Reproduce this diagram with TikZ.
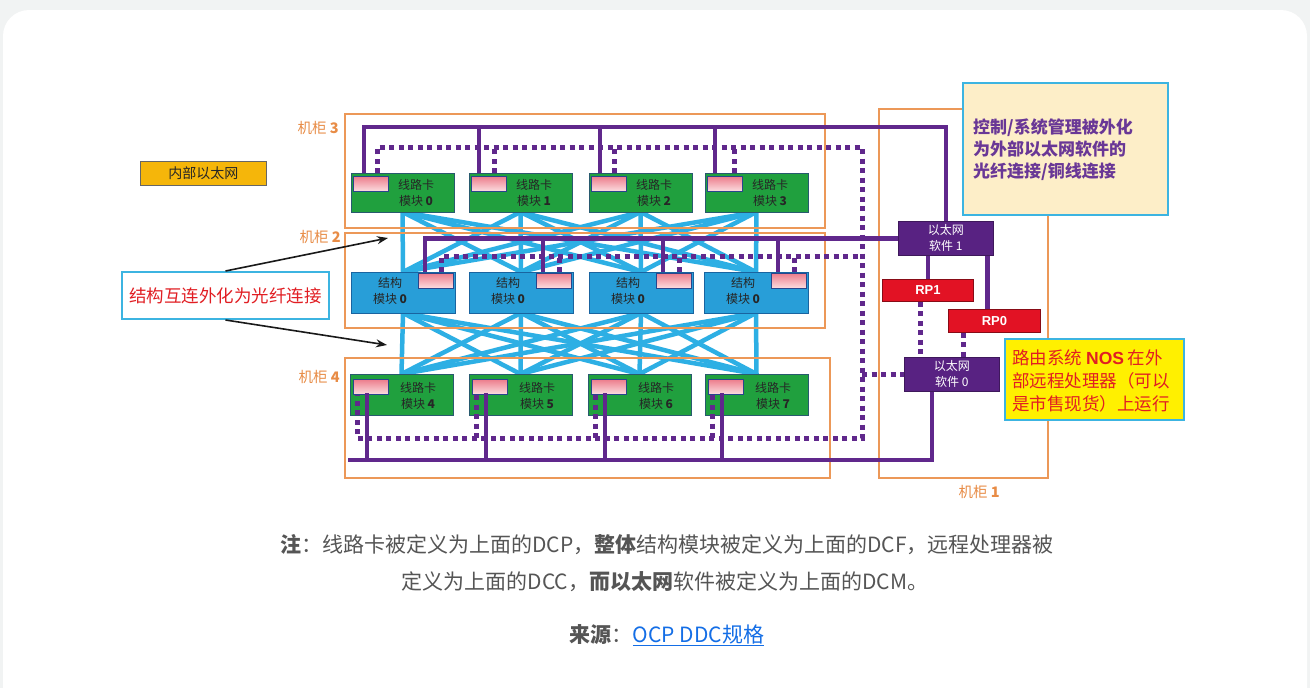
\documentclass[tikz,border=0pt]{standalone}
\usepackage{fontspec}
\setmainfont{Noto Sans CJK SC}
\newfontfamily\arialf{Liberation Sans}
\usetikzlibrary{arrows.meta}
\pgfdeclarelayer{bgl}
\pgfdeclarelayer{midl}
\pgfsetlayers{bgl,midl,main}
\definecolor{bggray}{RGB}{241,243,243}
\definecolor{rackor}{RGB}{236,152,88}
\definecolor{rackTxt}{RGB}{232,140,70}
\definecolor{lcgreen}{RGB}{32,160,62}
\definecolor{lcedge}{RGB}{40,90,110}
\definecolor{fmblue}{RGB}{40,158,216}
\definecolor{fmedge}{RGB}{25,100,160}
\definecolor{meshblue}{RGB}{45,175,228}
\definecolor{purp}{RGB}{96,40,140}
\definecolor{ethpurp}{RGB}{88,34,130}
\definecolor{rpred}{RGB}{226,18,36}
\definecolor{pinkA}{RGB}{236,125,140}
\definecolor{pinkB}{RGB}{252,222,225}
\definecolor{pinkedge}{RGB}{40,70,140}
\definecolor{beige}{RGB}{253,238,200}
\definecolor{cyanedge}{RGB}{60,180,225}
\definecolor{nosyellow}{RGB}{255,240,0}
\definecolor{notered}{RGB}{225,30,35}
\definecolor{ctrlpurp}{RGB}{105,55,150}
\definecolor{innerbox}{RGB}{245,182,10}
\definecolor{captxt}{RGB}{85,85,85}
\definecolor{linkblue}{RGB}{20,110,230}
\tikzset{
 rack/.style={draw=rackor,line width=1.3pt},
 racklbl/.style={text=rackTxt,font=\fontsize{14.5}{14.5}\selectfont,anchor=east,inner sep=0pt},
 lcard/.style={draw=lcedge,line width=1pt,fill=lcgreen,minimum width=103pt,anchor=north west,inner sep=0pt,outer sep=0pt},
 fmod/.style={draw=fmedge,line width=1pt,fill=fmblue,minimum width=104pt,minimum height=41pt,anchor=north west,inner sep=0pt,outer sep=0pt},
 pinkbox/.style={draw=pinkedge,line width=0.8pt,top color=pinkA,bottom color=pinkB,minimum width=35pt,minimum height=15pt,anchor=north west,inner sep=0pt},
 modtxt/.style={font=\fontsize{12}{15.5}\selectfont,text=black!85,align=center,inner sep=0pt},
 mesh/.style={draw=meshblue,line width=4.5pt},
 psolid/.style={draw=purp,line width=4.6pt},
 pdot/.style={draw=purp,line width=5pt,dash pattern=on 5pt off 4.5pt},
 ethbox/.style={draw=ethpurp!70!black,line width=0.8pt,fill=ethpurp,minimum width=95pt,minimum height=34pt,inner sep=0pt,anchor=north west,text=white,font=\fontsize{12}{16}\selectfont,align=center},
 rpbox/.style={draw=rpred!60!black,line width=0.8pt,fill=rpred,minimum height=22pt,inner sep=0pt,anchor=north west,text=white,font=\arialf\bfseries\fontsize{13}{13}\selectfont},
 callbox/.style={draw=cyanedge,line width=2pt,anchor=north west,inner sep=0pt},
 captext/.style={text=captxt,font=\fontsize{21}{21}\selectfont,inner sep=0pt},
 callarrow/.style={-{Stealth[length=11pt,width=8pt]},line width=1.6pt,draw=black!90}
}
\begin{document}
\begin{tikzpicture}[x=1pt,y=-1pt]
\useasboundingbox (0,0) rectangle (1310,688);
\begin{pgfonlayer}{bgl}
\fill[bggray] (0,0) rectangle (1310,688);
\fill[white,rounded corners=26pt] (3,10) rectangle (1307,740);
\end{pgfonlayer}

% ---- line cards (top row, rack 3)
\foreach \x [count=\i from 0] in {351,469,589,705}{
  \node[lcard,minimum height=39pt] (lc\i) at (\x,173) {};
  \node[pinkbox] (lcp\i) at ([xshift=2pt,yshift=-3pt]lc\i.north west) {};
  \node[modtxt] (lct\i) at ([xshift=65pt,yshift=-20pt]lc\i.north west) {线路卡\\模块 \textbf{\i}};
}
% ---- line cards (bottom row, rack 4)
\foreach \x [count=\i from 4] in {350,469,588,705}{
  \node[lcard,minimum height=41pt] (lc\i) at (\x,374) {};
  \node[pinkbox] (lcp\i) at ([xshift=3pt,yshift=-5pt]lc\i.north west) {};
  \node[modtxt] (lct\i) at ([xshift=68pt,yshift=-22pt]lc\i.north west) {线路卡\\模块 \textbf{\i}};
}
% ---- fabric modules (rack 2)
\foreach \x [count=\i from 0] in {351,469,589,704}{
  \node[fmod] (fm\i) at (\x,272) {};
  \node[pinkbox,anchor=north east] (fmp\i) at ([xshift=-1pt,yshift=-1pt]fm\i.north east) {};
  \node[modtxt] (fmt\i) at ([xshift=39pt,yshift=-19pt]fm\i.north west) {结构\\模块 \textbf{0}};
}

% ---- right side boxes
\node[ethbox] (eth1) at (898,221) {以太网\\软件 1};
\node[ethbox] (eth0) at (904,357) {以太网\\软件 0};
\node[rpbox,minimum width=91pt] (rp1) at (882,279) {RP1};
\node[rpbox,minimum width=92pt,minimum height=23pt] (rp0) at (948,309) {RP0};
\node[callbox,fill=beige,minimum width=205pt,minimum height=132pt] (ctrl) at (962,82) {};
\node[anchor=west,align=left,text=ctrlpurp,font=\fontsize{17}{22}\selectfont\bfseries,inner sep=0pt] (ctrltxt) at ([xshift=11pt,yshift=-1pt]ctrl.west) {控制/系统管理被外化\\为外部以太网软件的\\光纤连接/铜线连接};
\node[callbox,fill=nosyellow,minimum width=179pt,minimum height=81pt] (nos) at (1004,338) {};
\node[anchor=west,align=left,text=notered,font=\fontsize{17.5}{23}\selectfont,inner sep=0pt] (nostxt) at ([xshift=8pt,yshift=-1pt]nos.west) {路由系统 {\arialf\bfseries NOS} 在外\\部远程处理器（可以\\是市售现货）上运行};

% ---- mesh + racks (behind)
\begin{pgfonlayer}{midl}
\foreach \i in {0,...,3}{
  \foreach \j/\k in {0/4,1/5,2/6,3/7}{
    \draw[mesh] (lc\i.south) -- (fm\j.north);
    \draw[mesh] (fm\i.south) -- (lc\k.north);
  }
}
\draw[rack] (345,114) rectangle (825,228);
\draw[rack] (345,233) rectangle (825,328);
\draw[rack] (345,358) rectangle (830,478);
\draw[rack] (ctrl.west |- 879,109) -- (879,109) -- (879,478) -- (1048,478) -- (1048,478 |- ctrl.south);
\end{pgfonlayer}
\node[racklbl] (r3lbl) at (339,128) {机柜 \textbf{3}};
\node[racklbl] (r2lbl) at (341,237) {机柜 \textbf{2}};
\node[racklbl] (r4lbl) at (340,377) {机柜 \textbf{4}};
\node[racklbl] (r1lbl) at (1000,492) {机柜 \textbf{1}};

% ---- purple buses
\coordinate (bus3) at (0,127);
\coordinate (dot3) at (0,147);
\coordinate (dot2) at (0,256);
\coordinate (dot4) at (0,438);
\coordinate (dotR) at (862,0);
\coordinate (bus4L) at (348,460);
\path ([xshift=13pt]lc0.north west) coordinate (s0)
      ([xshift=10pt]lc1.north west) coordinate (s1)
      ([xshift=11pt]lc2.north west) coordinate (s2)
      ([xshift=10pt]lc3.north west) coordinate (s3);
\path ([xshift=26pt]lc0.north west) coordinate (d0)
      ([xshift=25pt]lc1.north west) coordinate (d1)
      ([xshift=25pt]lc2.north west) coordinate (d2)
      ([xshift=29pt]lc3.north west) coordinate (d3);
\foreach \k in {0,...,3}{
  \path ([xshift=-30pt]fm\k.north east) coordinate (g\k);
  \path ([xshift=-14pt]fm\k.north east) coordinate (f\k);
}
\foreach \k in {4,...,7}{
  \path ([xshift=17pt,yshift=-19pt]lc\k.north west) coordinate (h\k);
  \path ([xshift=7pt,yshift=-21pt]lc\k.north west) coordinate (e\k);
}
\path ([xshift=-20pt]eth0.south) coordinate (e0s);

% rack 3
\draw[psolid] (s0) |- (bus3 -| eth1.north) -- (eth1.north);
\foreach \k in {1,2,3} \draw[psolid] (s\k) -- (s\k |- bus3);
\draw[pdot] (d0) -- (d0 |- dot3) -- (dot3 -| dotR) -- (dotR |- dot4) -- (dot4 -| e4) -- (e4);
\foreach \k in {1,2,3} \draw[pdot] (d\k) -- (d\k |- dot3);
% rack 2
\draw[psolid] (g0) |- (eth1.west);
\foreach \k in {1,2,3} \draw[psolid] (g\k) -- (g\k |- eth1.west);
\draw[pdot] (f0) -- (f0 |- dot2) -- (dot2 -| dotR);
\foreach \k in {1,2,3} \draw[pdot] (f\k) -- (f\k |- dot2);
% rack 4
\draw[psolid] (bus4L) -| (e0s);
\foreach \k in {4,...,7} \draw[psolid] (h\k) -- (h\k |- bus4L);
\foreach \k in {5,6,7} \draw[pdot] (e\k) -- (e\k |- dot4);
% right side
\draw[pdot] (dotR |- eth0.west) -- (eth0.west);
\draw[psolid] (rp1.north) -- (rp1.north |- eth1.south);
\path ([xshift=-7pt]rp0.north) coordinate (q0);
\draw[psolid] (q0) -- (q0 |- eth1.south);
\path ([xshift=-7pt]rp1.south) coordinate (q1);
\draw[pdot] (q1) -- (q1 |- eth0.north);
\path ([xshift=-31pt]rp0.south) coordinate (q2);
\draw[pdot] (q2) -- (q2 |- eth0.north);

% ---- left callouts
\node[draw=black!60,line width=0.8pt,fill=innerbox,minimum width=126pt,minimum height=24pt,anchor=north west,font=\fontsize{14}{14}\selectfont,text=black!85,inner sep=0pt] (inner) at (140,161) {内部以太网};
\node[callbox,fill=white,minimum width=207pt,minimum height=47pt,text=notered,font=\fontsize{17.5}{17.5}\selectfont] (fab) at (121,271) {结构互连外化为光纤连接};
\coordinate (a1) at (388,238);
\coordinate (a2) at (387,345);
\draw[callarrow] (fab.north) -- (a1);
\draw[callarrow] (fab.south) -- (a2);

% ---- caption
\node[captext] (cap1) at (667,545) {\textbf{注}：线路卡被定义为上面的DCP，\textbf{整体}结构模块被定义为上面的DCF，远程处理器被};
\node[captext] (cap2) at (665,582) {定义为上面的DCC，\textbf{而以太网}软件被定义为上面的DCM。};
\node[captext] (cap3) at (667,635) {\textbf{来源}：\textcolor{linkblue}{\underline{OCP DDC规格}}};
\end{tikzpicture}
\end{document}
